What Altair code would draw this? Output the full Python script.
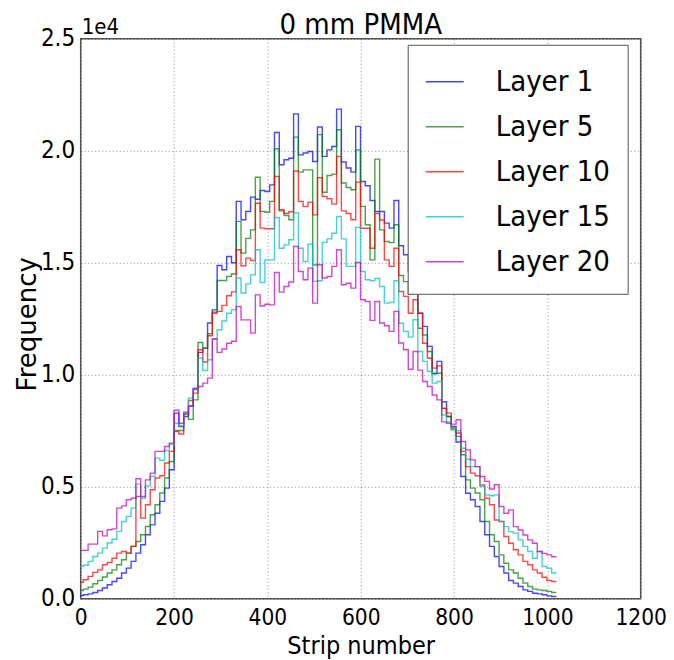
import altair as alt
import numpy as np
import pandas as pd

# Histogram binning (strip numbers)
BIN_START = -4.6
BIN_WIDTH = 10.24

LAYERS = ["Layer 1", "Layer 5", "Layer 10", "Layer 15", "Layer 20"]
COLORS = ["#0000ff", "#008000", "#ff0000", "#00bfbf", "#bf00bf"]

layer1 = [150, 180, 220, 280, 370, 480, 630, 770, 920, 1150, 1370, 1670, 2040, 2410, 2860, 3300, 3820, 4350, 4940, 5760,
          8290, 7690, 8140, 8600, 9360, 11000, 11190, 12310, 12900, 14880, 14690, 15280, 15000, 17740, 16920, 17290, 17930, 17840, 18230, 18180,
          18480, 20820, 19380, 19600, 19670, 21650, 19820, 19900, 19970, 19520, 21060, 19750, 20040, 20190, 21860, 19500, 19230, 19050, 21090, 18630,
          18440, 17780, 17290, 17290, 16770, 16550, 17780, 15760, 15360, 14600, 14000, 12750, 12160, 11270, 10040, 10600, 8800, 8140, 7690, 7000,
          5460, 4710, 4420, 4120, 3450, 2860, 2340, 1890, 1440, 1150, 820, 700, 550, 400, 330, 250, 220, 180, 130, 100]

layer5 = [370, 430, 520, 670, 820, 970, 1150, 1290, 1520, 1740, 2040, 2340, 2560, 2860, 3230, 3750, 4200, 4720, 5390, 6130,
          7510, 7510, 8320, 8010, 8880, 11440, 11190, 11830, 12800, 14210, 14210, 14390, 14500, 16850, 15430, 16090, 16470, 18820, 17290, 17260,
          17740, 20090, 17320, 17110, 16920, 20610, 19050, 19150, 19150, 14900, 20720, 18150, 18900, 18960, 20940, 18560, 18360, 18260, 20040, 17520,
          16700, 15130, 19630, 16470, 15950, 15900, 16700, 14430, 14160, 13600, 13800, 12080, 11780, 11040, 10070, 10070, 8500, 8140, 7540, 7250,
          6430, 5310, 4940, 4720, 4420, 3450, 2860, 2560, 1960, 1590, 1290, 1150, 920, 700, 550, 430, 400, 370, 330, 280]

layer10 = [740, 850, 1000, 1180, 1290, 1520, 1620, 1810, 2040, 2110, 2040, 2340, 4570, 3600, 4200, 4870, 5390, 5490, 6060, 6580,
           7470, 7360, 8320, 8850, 9180, 11120, 10570, 11740, 12750, 12830, 13100, 13530, 13700, 15580, 14870, 15210, 15100, 17660, 16550, 16520,
           16520, 18860, 17370, 17200, 17280, 19100, 17740, 17510, 17710, 17140, 18800, 17960, 17860, 17620, 19750, 17320, 17200, 16920, 18600, 16540,
           16540, 15650, 17200, 16910, 15130, 14840, 15650, 13720, 13500, 12750, 13350, 12750, 11410, 10740, 10300, 10400, 8500, 8290, 7620, 7400,
           6580, 5900, 5610, 5490, 5080, 4490, 4200, 3520, 3450, 2780, 2480, 2190, 1960, 1670, 1520, 1290, 1150, 960, 820, 770]

layer15 = [1440, 1500, 1670, 1890, 2040, 2260, 2490, 2660, 3010, 3450, 3680, 4050, 5120, 4490, 5040, 5460, 6280, 6180, 6620, 6900,
           7840, 7720, 8320, 8960, 9330, 10750, 10190, 10670, 11600, 12010, 12400, 12750, 12900, 14320, 13650, 14060, 14460, 15580, 14120, 15130,
           15130, 17020, 15650, 15800, 16030, 17220, 15650, 15060, 15830, 14170, 14200, 15910, 16070, 16320, 17070, 16070, 14840, 14840, 16580, 14610,
           14240, 14200, 14300, 13940, 13200, 13230, 14200, 12300, 11930, 11680, 12460, 11040, 10600, 10150, 9630, 9700, 8200, 7900, 7620, 7500,
           6720, 6230, 5900, 5900, 5010, 4640, 4600, 4640, 3450, 3220, 3000, 2930, 2630, 2340, 2110, 1810, 2110, 1440, 1370, 1150]

layer20 = [2160, 2160, 2440, 2440, 3010, 2810, 3080, 3120, 4050, 4150, 4420, 4490, 5360, 4570, 5310, 5610, 6580, 6580, 6800, 6950,
           8420, 7840, 8240, 8610, 9400, 9480, 9630, 9850, 11600, 11000, 11150, 11410, 11500, 13050, 12450, 12450, 11860, 13570, 13070, 13150,
           13120, 14570, 13690, 13940, 14140, 15730, 14610, 14240, 14760, 13200, 14910, 14320, 14390, 14840, 15580, 14020, 14090, 13870, 15010, 13350,
           13270, 12430, 13270, 12310, 12190, 11940, 12830, 11420, 11120, 10250, 11040, 10210, 9700, 9480, 9100, 8880, 7900, 7840, 7800, 7990,
           7020, 6650, 6200, 5900, 5460, 5240, 4900, 5090, 4120, 3820, 3970, 3220, 3070, 2850, 2630, 2480, 2110, 2030, 1960, 1880]

SERIES = [layer1, layer5, layer10, layer15, layer20]

X_TICKS = [0, 200, 400, 600, 800, 1000, 1200]
Y_TICKS = [0, 5000, 10000, 15000, 20000, 25000]

rows = []
for name, counts in zip(LAYERS, SERIES):
    edges = BIN_START + BIN_WIDTH * np.arange(len(counts) + 1)
    ys = list(counts) + [counts[-1]]
    for e, v in zip(edges, ys):
        rows.append({"strip": float(e), "freq": v, "layer": name})
df = pd.DataFrame(rows)

FONT = "DejaVu Sans Condensed, DejaVu Sans"
FONT_PLAIN = "DejaVu Sans"

lines = alt.Chart(df).mark_line(
    interpolate="step-after", clip=True, strokeWidth=1.4, opacity=0.72
).encode(
    x=alt.X("strip:Q",
            scale=alt.Scale(domain=[0, 1200], nice=False, zero=False),
            axis=alt.Axis(values=X_TICKS, title="Strip number", format="d",
                          labelFlush=False, labelOverlap=False,
                          labelFontSize=22.5,
                          labelPadding=8, titlePadding=4)),
    y=alt.Y("freq:Q",
            scale=alt.Scale(domain=[0, 25000], nice=False),
            axis=alt.Axis(values=Y_TICKS, title="Frequency",
                          labelExpr="format(datum.value / 10000, '.1f')",
                          labelFlush=False, labelOverlap=False,
                          labelFontSize=24,
                          labelPadding=6,
                          titleFont=FONT_PLAIN, titleFontSize=26,
                          titleAngle=270, titleAlign="center",
                          titleBaseline="alphabetic",
                          titleX=-45, titleY=285)),
    color=alt.Color("layer:N",
                    scale=alt.Scale(domain=LAYERS, range=COLORS),
                    legend=alt.Legend(orient="none", legendX=327, legendY=6,
                                      title=None, symbolType="stroke",
                                      symbolSize=1444, symbolStrokeWidth=1.5,
                                      labelFontSize=29, labelFont=FONT,
                                      labelColor="#000", labelOffset=31,
                                      rowPadding=10, padding=17,
                                      strokeColor="#555", fillColor="white",
                                      cornerRadius=0)),
)

offset_text = alt.Chart(pd.DataFrame({"t": ["1e4"]})).mark_text(
    align="left", baseline="bottom", fontSize=22, font=FONT, color="#000"
).encode(x=alt.value(1), y=alt.value(0), text="t:N")

chart = alt.layer(lines, offset_text).properties(
    width=560, height=560,
    autosize=alt.AutoSizeParams(type="none"),
    padding={"left": 72.7, "top": 30.8, "right": 25.3, "bottom": 75},
    title=alt.Title("0 mm PMMA", fontSize=29, font=FONT, fontWeight="normal",
                    color="#000", frame="group", offset=5, dy=29),
).configure_view(
    stroke="#555", strokeWidth=1.5
).configure_axis(
    grid=True, gridColor="#000", gridOpacity=0.45, gridDash=[1, 2.5], gridWidth=1,
    domain=False, ticks=False, tickSize=0,
    labelFont=FONT, labelFontSize=24, labelColor="#000",
    titleFont=FONT, titleFontSize=25, titleFontWeight="normal", titleColor="#000",
)

chart.save("out.html", embed_options={"renderer": "svg", "actions": False})
